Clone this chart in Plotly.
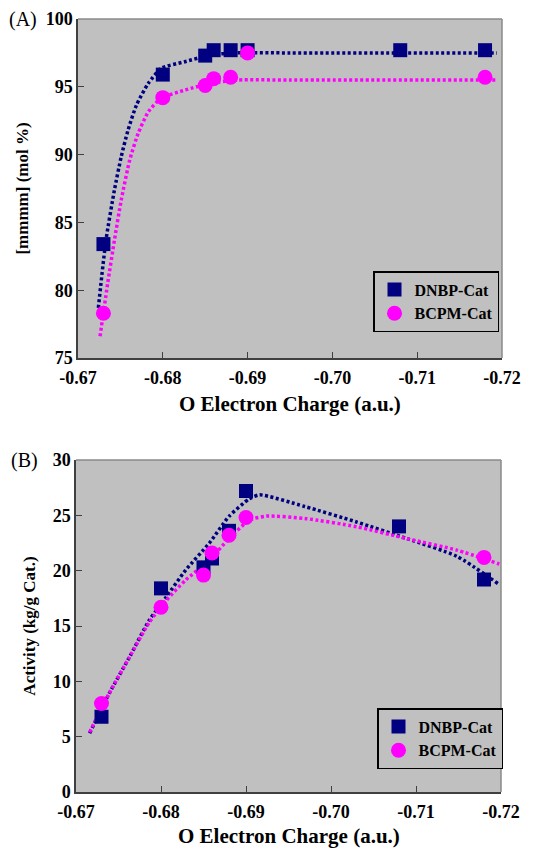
import plotly.graph_objects as go

# ---------- Data ----------
# Panel A: [mmmm] vs O electron charge
a_dnbp_x = [-0.673, -0.680, -0.685, -0.686, -0.688, -0.690, -0.708, -0.718]
a_dnbp_y = [83.4, 95.9, 97.3, 97.7, 97.7, 97.7, 97.7, 97.7]
a_bcpm_x = [-0.673, -0.680, -0.685, -0.686, -0.688, -0.690, -0.718]
a_bcpm_y = [78.3, 94.2, 95.1, 95.6, 95.7, 97.5, 95.7]

# Panel A fitted curves
a_dnbp_fit_x = [-0.6724, -0.6733, -0.6743, -0.6751, -0.6759, -0.6769, -0.6783, -0.6798, -0.6826, -0.6857, -0.6885, -0.6950, -0.7194]
a_dnbp_fit_y = [78.7, 83.7, 87.4, 89.85, 91.8, 93.66, 95.26, 96.36, 96.85, 97.35, 97.5, 97.5, 97.5]
a_bcpm_fit_x = [-0.6726, -0.6735, -0.6743, -0.6751, -0.6761, -0.6771, -0.6783, -0.6798, -0.6826, -0.6857, -0.6889, -0.6950, -0.7194]
a_bcpm_fit_y = [76.6, 80.5, 83.7, 86.65, 89.6, 91.57, 93.16, 94.15, 94.76, 95.26, 95.5, 95.5, 95.5]

# Panel B: Activity vs O electron charge
b_dnbp_x = [-0.673, -0.680, -0.685, -0.686, -0.688, -0.690, -0.708, -0.718]
b_dnbp_y = [6.8, 18.4, 20.3, 21.1, 23.6, 27.2, 24.0, 19.2]
b_bcpm_x = [-0.673, -0.680, -0.685, -0.686, -0.688, -0.690, -0.718]
b_bcpm_y = [8.0, 16.7, 19.6, 21.6, 23.2, 24.8, 21.2]

b_dnbp_fit_x = [-0.6716, -0.6739, -0.6763, -0.6786, -0.6806, -0.6829, -0.6857, -0.6880, -0.6904, -0.6916, -0.6969, -0.7030, -0.7089, -0.7148, -0.7197]
b_dnbp_fit_y = [5.3, 8.9, 12.2, 15.5, 17.6, 20.05, 22.5, 24.9, 26.5, 26.85, 25.8, 24.4, 22.9, 21.3, 18.8]
b_bcpm_fit_x = [-0.6716, -0.6739, -0.6763, -0.6786, -0.6806, -0.6829, -0.6857, -0.6880, -0.6904, -0.6924, -0.6969, -0.7030, -0.7089, -0.7148, -0.7198]
b_bcpm_fit_y = [5.4, 8.9, 12.2, 15.3, 17.3, 19.15, 20.96, 22.9, 24.57, 24.93, 24.72, 23.97, 22.9, 21.86, 20.6]

x_ticks = [-0.67, -0.68, -0.69, -0.70, -0.71, -0.72]
x_tick_text = ["-0.67", "-0.68", "-0.69", "-0.70", "-0.71", "-0.72"]
a_y_ticks = [75, 80, 85, 90, 95, 100]
b_y_ticks = [0, 5, 10, 15, 20, 25, 30]

names = ["DNBP-Cat", "BCPM-Cat"]
NAVY = "#000080"
PINK = "#FF00FF"
BG = "#C0C0C0"
FONT = "Liberation Serif, Times New Roman, serif"

fig = go.Figure()

def add_panel(xa, ya, legend, fits, pts):
    for (fx, fy), color in zip(fits, [NAVY, PINK]):
        fig.add_trace(go.Scatter(x=fx, y=fy, mode="lines", line=dict(color=color, width=3.5, dash="3px,2.5px", shape="spline", smoothing=0.6),
                                 xaxis=xa, yaxis=ya, showlegend=False, hoverinfo="skip"))
    for (px, py), color, sym, nm in zip(pts, [NAVY, PINK], ["square", "circle"], names):
        fig.add_trace(go.Scatter(x=px, y=py, mode="markers", name=nm,
                                 marker=dict(color=color, symbol=sym, size=14 if sym == "square" else 15, line=dict(width=0)),
                                 xaxis=xa, yaxis=ya, legend=legend))

add_panel("x", "y", "legend", [(a_dnbp_fit_x, a_dnbp_fit_y), (a_bcpm_fit_x, a_bcpm_fit_y)],
          [(a_dnbp_x, a_dnbp_y), (a_bcpm_x, a_bcpm_y)])
add_panel("x2", "y2", "legend2", [(b_dnbp_fit_x, b_dnbp_fit_y), (b_bcpm_fit_x, b_bcpm_fit_y)],
          [(b_dnbp_x, b_dnbp_y), (b_bcpm_x, b_bcpm_y)])

L, R, T, B = 76, 36, 19, 56
W, H = 538, 848
pw, ph = W - L - R, H - T - B

def px2x(p):
    return (p - L) / pw

def py2y(p):
    return (H - B - p) / ph

tickfont = dict(family=FONT, size=18, color="black", weight="bold")
ytitlefont = dict(family=FONT, size=17, color="black", weight="bold")

xcommon = dict(range=[-0.67, -0.72], tickvals=x_ticks, ticktext=x_tick_text, ticks="inside", ticklen=6,
               tickcolor="#404040", showline=True, linecolor="#404040", linewidth=1.5, showgrid=False,
               zeroline=False, tickfont=tickfont, ticklabelstandoff=3, automargin=False)
ycommon = dict(ticks="inside", ticklen=6, tickcolor="#404040", showline=True, linecolor="#404040", linewidth=1.5,
               showgrid=False, zeroline=False, tickfont=tickfont, automargin=False)

legcommon = dict(bgcolor=BG, bordercolor="black", borderwidth=1.5,
                 font=dict(family=FONT, size=16, color="black", weight="bold"),
                 xanchor="left", yanchor="top", itemsizing="trace", tracegroupgap=0)

fig.update_layout(
    width=W, height=H, margin=dict(l=L, r=R, t=T, b=B, autoexpand=False),
    paper_bgcolor="white", plot_bgcolor=BG,
    xaxis=dict(domain=[px2x(78), px2x(502)], anchor="y", **xcommon),
    yaxis=dict(domain=[py2y(358), py2y(19)], anchor="x", range=[75, 100], tickvals=a_y_ticks,
               title=dict(text="[mmmm] (mol %)", font=ytitlefont, standoff=13), **ycommon),
    xaxis2=dict(domain=[px2x(76), px2x(501)], anchor="y2", **xcommon),
    yaxis2=dict(domain=[py2y(792), py2y(460)], anchor="x2", range=[0, 30], tickvals=b_y_ticks,
                title=dict(text="Activity (kg/g Cat.)", font=ytitlefont, standoff=13), **ycommon),
    legend=dict(x=px2x(373), y=py2y(271), **legcommon),
    legend2=dict(x=px2x(377), y=py2y(708), **legcommon),
    showlegend=True,
)

# light border on top/right of plot areas
for x0, x1, y0, y1 in [(78, 502, 19, 358), (76, 501, 460, 792)]:
    fig.add_shape(type="line", xref="paper", yref="paper", x0=px2x(x0), x1=px2x(x1), y0=py2y(y0), y1=py2y(y0),
                  line=dict(color="#8a8a8a", width=1.5))
    fig.add_shape(type="line", xref="paper", yref="paper", x0=px2x(x1), x1=px2x(x1), y0=py2y(y0), y1=py2y(y1),
                  line=dict(color="#8a8a8a", width=1.5))

# x-axis titles placed as annotations (centered under each plot)
for cx, cy in [((78 + 502) / 2, 404), ((76 + 501) / 2, 836)]:
    fig.add_annotation(text="O Electron Charge (a.u.)", xref="paper", yref="paper", x=px2x(cx), y=py2y(cy),
                       xanchor="center", yanchor="middle", showarrow=False,
                       font=dict(family=FONT, size=21, color="black", weight="bold"))

fig.add_annotation(text="(A)", xref="paper", yref="paper", x=px2x(7), y=py2y(19), xanchor="left", yanchor="middle",
                   showarrow=False, font=dict(family=FONT, size=20, color="black"))
fig.add_annotation(text="(B)", xref="paper", yref="paper", x=px2x(9), y=py2y(460), xanchor="left", yanchor="middle",
                   showarrow=False, font=dict(family=FONT, size=20, color="black"))

fig.write_html("out.html")
